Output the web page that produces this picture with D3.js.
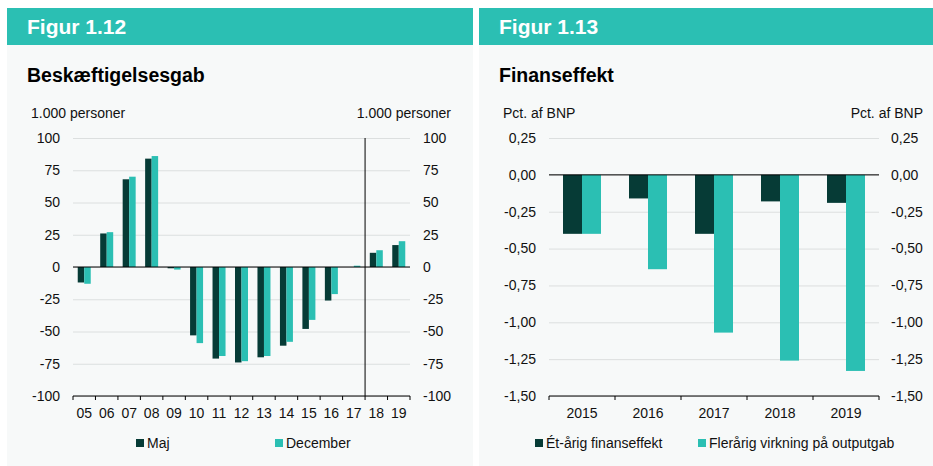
<!DOCTYPE html>
<html>
<head>
<meta charset="utf-8">
<script src="https://cdn.jsdelivr.net/npm/d3@7"></script>
<style>
  body { margin: 0; background: #fff; }
  svg { display: block; font-family: "Liberation Sans", Arial, sans-serif; }
  .grid line { stroke: #dcdfdf; stroke-width: 1; }
  .grid path { display: none; }
</style>
</head>
<body>
<div id="chart"></div>
<script>
// Figur 1.12 - Beskæftigelsesgab
const years12 = ["05","06","07","08","09","10","11","12","13","14","15","16","17","18","19"]
const maj12 = [-12, 26, 68, 84, -1, -53, -71, -74, -70, -61, -48, -26, 0, 11, 17]
const dec12 = [-13, 27, 70, 86, -2, -59, -69, -73, -69, -58, -41, -21, 1, 13, 20]
const ticks12 = [100, 75, 50, 25, 0, -25, -50, -75, -100]
const series12 = ["Maj", "December"]

// Figur 1.13 - Finanseffekt
const years13 = ["2015","2016","2017","2018","2019"]
const etaarig = [-0.40, -0.16, -0.40, -0.18, -0.19]
const flerarig = [-0.40, -0.64, -1.07, -1.26, -1.33]
const ticks13 = [0.25, 0, -0.25, -0.5, -0.75, -1.0, -1.25, -1.5]
const series13 = ["Ét-årig finanseffekt", "Flerårig virkning på outputgab"]

const dark = "#063b36"
const teal = "#2bbfb3"
const panelBg = "#f7f9f9"
const fs = "14px"

const W = 933, H = 466
const svg = d3.select("#chart").append("svg")
  .attr("width", W).attr("height", H)

const comma2 = d3.format(".2f")
const fmtDa = v => comma2(v).replace(".", ",").replace("−", "-")

function drawPanel(cfg) {
  const g = svg.append("g")

  // background + header
  g.append("rect").attr("x", cfg.x0).attr("y", 8).attr("width", cfg.x1 - cfg.x0).attr("height", 458)
    .attr("fill", panelBg)
  g.append("rect").attr("x", cfg.x0).attr("y", 8).attr("width", cfg.x1 - cfg.x0).attr("height", 37)
    .attr("fill", teal)
  g.append("text").attr("x", cfg.x0 + 20).attr("y", 34).text(cfg.fig)
    .attr("fill", "#fff").style("font-size", "21px").style("font-weight", "bold")
  g.append("text").attr("x", cfg.x0 + 20).attr("y", 82).text(cfg.title)
    .attr("fill", "#000").style("font-size", "19.5px").style("font-weight", "bold")
  g.append("text").attr("x", cfg.unitLeft).attr("y", 118).text(cfg.unit)
    .style("font-size", fs).attr("fill", "#111")
  g.append("text").attr("x", cfg.unitRight).attr("y", 118).text(cfg.unit)
    .attr("text-anchor", "end").style("font-size", fs).attr("fill", "#111")

  const x = d3.scaleBand().domain(cfg.cats).range([cfg.left, cfg.right])
  const y = d3.scaleLinear().domain(cfg.domain).range([396, 138])

  // gridlines
  g.append("g").attr("class", "grid")
    .attr("transform", `translate(${cfg.left},0)`)
    .call(d3.axisLeft(y).tickValues(cfg.ticks).tickSize(-(cfg.right - cfg.left)).tickFormat(""))

  // left and right tick labels
  cfg.ticks.forEach(t => {
    g.append("text").attr("x", cfg.labLeft).attr("y", y(t)).attr("dy", "0.35em")
      .attr("text-anchor", "end").style("font-size", fs).attr("fill", "#111").text(cfg.fmt(t))
    g.append("text").attr("x", cfg.labRight).attr("y", y(t)).attr("dy", "0.35em")
      .style("font-size", fs).attr("fill", "#111").text(cfg.fmt(t))
  })

  // bars
  const sub = d3.scaleBand().domain([0, 1]).range([0, cfg.barW * 2])
  const off = (x.bandwidth() - cfg.barW * 2) / 2
  ;[cfg.a, cfg.b].forEach((vals, si) => {
    g.append("g").selectAll("rect").data(vals).enter().append("rect")
      .attr("x", (d, i) => x(cfg.cats[i]) + off + sub(si))
      .attr("y", d => y(Math.max(0, d)))
      .attr("width", sub.bandwidth())
      .attr("height", d => Math.abs(y(d) - y(0)))
      .attr("fill", si == 0 ? dark : teal)
  })

  // zero line
  g.append("line").attr("x1", cfg.left).attr("x2", cfg.right)
    .attr("y1", y(0)).attr("y2", y(0)).attr("stroke", "#000").attr("stroke-width", 1)

  // bottom axis with ticks between categories
  const axis = g.append("g").attr("transform", `translate(0,${y(cfg.domain[0])})`)
  axis.append("line").attr("x1", cfg.left).attr("x2", cfg.right).attr("stroke", "#000")
  const edges = cfg.cats.map(c => x(c)).concat([cfg.right])
  axis.selectAll(".tk").data(edges).enter().append("line")
    .attr("x1", d => d).attr("x2", d => d).attr("y1", 0).attr("y2", 4).attr("stroke", "#000")
  axis.selectAll(".cl").data(cfg.cats).enter().append("text")
    .attr("x", d => x(d) + x.bandwidth() / 2).attr("y", 17).attr("dy", "0.35em")
    .attr("text-anchor", "middle").style("font-size", fs).attr("fill", "#111").text(d => d)

  // legend
  cfg.legend.forEach((lg, i) => {
    g.append("rect").attr("x", lg.x).attr("y", 439).attr("width", 8).attr("height", 8)
      .attr("fill", i == 0 ? dark : teal)
    g.append("text").attr("x", lg.x + 11).attr("y", 443).attr("dy", "0.35em")
      .style("font-size", fs).attr("fill", "#111").text(cfg.names[i])
  })

  return {g, x, y}
}

const p1 = drawPanel({
  x0: 7, x1: 473, fig: "Figur 1.12", title: "Beskæftigelsesgab", unit: "1.000 personer",
  unitLeft: 31, unitRight: 451, left: 73, right: 410, labLeft: 60, labRight: 423,
  cats: years12, a: maj12, b: dec12, domain: [-100, 100], ticks: ticks12, fmt: d => d3.format("d")(d).replace("−", "-"),
  barW: 6.5, names: series12, legend: [{x: 136}, {x: 275}]
})

// vertical divider between 17 and 18 (forecast years)
p1.g.append("line")
  .attr("x1", p1.x("18")).attr("x2", p1.x("18"))
  .attr("y1", p1.y(100)).attr("y2", p1.y(-100))
  .attr("stroke", "#000").attr("stroke-width", 1)

drawPanel({
  x0: 479, x1: 933, fig: "Figur 1.13", title: "Finanseffekt", unit: "Pct. af BNP",
  unitLeft: 503, unitRight: 923, left: 549, right: 879, labLeft: 536, labRight: 891,
  cats: years13, a: etaarig, b: flerarig, domain: [-1.5, 0.25], ticks: ticks13, fmt: fmtDa,
  barW: 19, names: series13, legend: [{x: 535}, {x: 698}]
})
</script>
</body>
</html>
